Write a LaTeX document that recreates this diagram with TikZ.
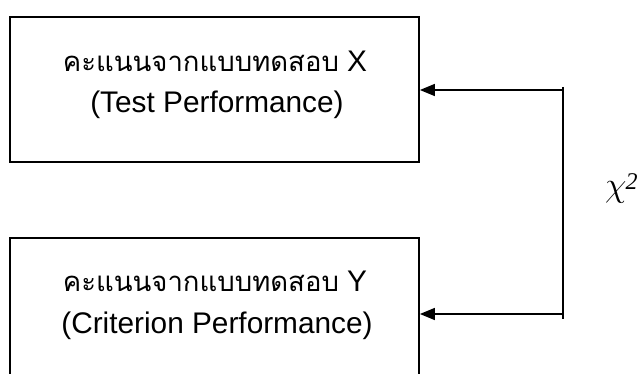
\documentclass[tikz,border=0pt]{standalone}
\usepackage{fontspec}
\usepackage{graphicx}
\setmainfont{Liberation Sans}
\newfontfamily\thaifont[Script=Thai]{Loma}
\newfontfamily\serifgreek{Liberation Serif}
\usetikzlibrary{arrows.meta}
\begin{document}
\begin{tikzpicture}[x=1pt,y=-1pt,
  boxstyle/.style={draw, line width=1.8pt, inner sep=0pt, minimum width=409pt},
  txt/.style={inner sep=0pt, anchor=center, font=\fontsize{29.8}{29.8}\selectfont},
  conn/.style={line width=1.5pt},
  arr/.style={conn, -{Triangle[length=15pt,width=12pt]}}]
\useasboundingbox (0,0) rectangle (641,374);
\clip (0,0) rectangle (641,374);
\fill[white] (0,0) rectangle (641,374);
\node[boxstyle, minimum height=145pt] (b1) at (214.5,89.5) {};
\node[boxstyle, minimum height=160pt] (b2) at (214.5,318) {};
\node[txt] (t1) at (215,61) {{\thaifont\fontsize{27.5}{27.5}\selectfont คะแนนจากแบบทดสอบ} X};
\node[txt] (t2) at (217,105) {(Test Performance)};
\node[txt] (t3) at (215,281) {{\thaifont\fontsize{27.5}{27.5}\selectfont คะแนนจากแบบทดสอบ} Y};
\node[txt] (t4) at (217,326) {(Criterion Performance)};
\coordinate (vtop) at (563,87);
\coordinate (vbot) at (563,319);
\coordinate (c1) at (563,90);
\coordinate (c2) at (563,314);
\draw[conn] (vtop) -- (vbot);
\draw[arr] (c1) -- (b1.east |- c1);
\draw[arr] (c2) -- (b2.east |- c2);
\node[inner sep=0pt, anchor=base west] (chi) at (605,197) {\scalebox{1.4}{\fontsize{24.88}{24.88}\selectfont$\chi$}\kern-1pt\raisebox{7pt}{\serifgreek\itshape\fontsize{24}{24}\selectfont 2}};
\end{tikzpicture}
\end{document}
